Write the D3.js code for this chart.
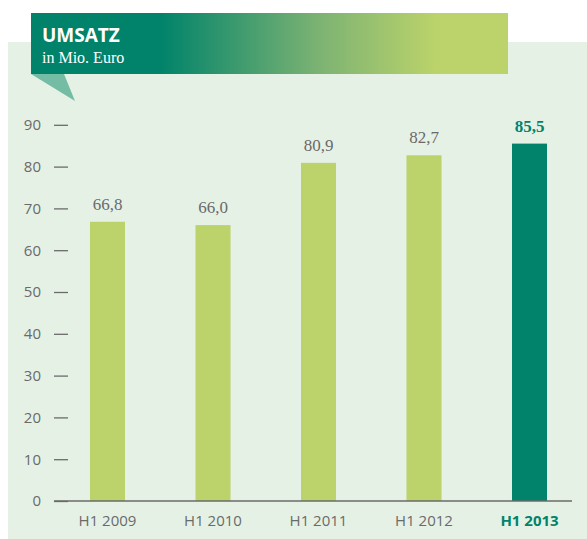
<!DOCTYPE html>
<html>
<head>
<meta charset="utf-8">
<script src="https://cdn.jsdelivr.net/npm/d3@7"></script>
<style>
  body { margin: 0; background: #fff; }
  svg { display: block; }
</style>
</head>
<body>
<svg id="chart" width="587" height="539"></svg>
<script>
var categories = ["H1 2009", "H1 2010", "H1 2011", "H1 2012", "H1 2013"];
var values = [66.8, 66.0, 80.9, 82.7, 85.5];
var yTicks = [0, 10, 20, 30, 40, 50, 60, 70, 80, 90];
var highlight = "H1 2013";

var svg = d3.select("#chart");
var sans = "'Open Sans', 'Noto Sans', sans-serif",
    serif = "'Liberation Serif', 'DejaVu Serif', serif";
var grey = "#6a6a6a", teal = "#00836a", lime = "#bbd36a";

// panel background
svg.append("rect").attr("x", 8).attr("y", 42).attr("width", 579).attr("height", 497).attr("fill", "#e6f1e6");

// header with gradient
var grad = svg.append("defs").append("linearGradient").attr("id", "hdr");
grad.append("stop").attr("offset", "0%").attr("stop-color", teal);
grad.append("stop").attr("offset", "27%").attr("stop-color", teal);
grad.append("stop").attr("offset", "60%").attr("stop-color", "#7bb273");
grad.append("stop").attr("offset", "85%").attr("stop-color", lime);
grad.append("stop").attr("offset", "100%").attr("stop-color", lime);

svg.append("path").attr("d", "M31,74 L64,74 L75,101 Z").attr("fill", "#74bca4");
svg.append("rect").attr("x", 31).attr("y", 13).attr("width", 477).attr("height", 61).attr("fill", "url(#hdr)");
svg.append("text").attr("x", 42).attr("y", 42).text("UMSATZ")
    .attr("fill", "#fff").attr("font-family", sans).attr("font-weight", "bold").attr("font-size", 19);
svg.append("text").attr("x", 42).attr("y", 63).text("in Mio. Euro")
    .attr("fill", "#fff").attr("font-family", serif).attr("font-size", 16);

var x = d3.scaleBand().domain(categories).range([54.75, 582.25])
    .paddingInner(0.668).paddingOuter(0.334);
var y = d3.scaleLinear().domain([0, 90]).range([501, 124.8]);

// y axis: short dashes with labels
var yAxis = d3.axisLeft(y).tickValues(yTicks).tickSize(14).tickPadding(13);
var gy = svg.append("g").attr("transform", "translate(68,0)").call(yAxis);
gy.select(".domain").remove();
gy.selectAll(".tick line").attr("stroke", grey).attr("stroke-width", 1.3);
gy.selectAll(".tick text").attr("fill", grey).attr("font-family", sans).attr("font-size", 15);

// bars
svg.selectAll("rect.bar").data(values).enter().append("rect")
    .attr("class", "bar")
    .attr("x", (d, i) => x(categories[i]))
    .attr("width", x.bandwidth())
    .attr("y", d => y(d))
    .attr("height", d => y(0) - y(d))
    .attr("fill", (d, i) => categories[i] === highlight ? teal : lime);

// value labels
svg.selectAll("text.val").data(values).enter().append("text")
    .attr("class", "val")
    .attr("x", (d, i) => x(categories[i]) + x.bandwidth() / 2)
    .attr("y", d => y(d) - 12)
    .attr("text-anchor", "middle")
    .attr("font-family", serif)
    .attr("font-size", 17)
    .attr("font-weight", (d, i) => categories[i] === highlight ? "bold" : "normal")
    .attr("fill", (d, i) => categories[i] === highlight ? teal : grey)
    .text(d => d.toFixed(1).replace(".", ","));

// x axis
var xAxis = d3.axisBottom(x).tickSize(0).tickPadding(14);
var gx = svg.append("g").attr("transform", "translate(0,501)").call(xAxis);
gx.select(".domain").attr("d", "M54,0H572").attr("stroke", grey).attr("stroke-width", 1.5);
gx.selectAll(".tick text")
    .attr("font-family", sans).attr("font-size", 15)
    .attr("fill", d => d === highlight ? teal : grey)
    .attr("font-weight", d => d === highlight ? "bold" : "normal");
</script>
</body>
</html>
